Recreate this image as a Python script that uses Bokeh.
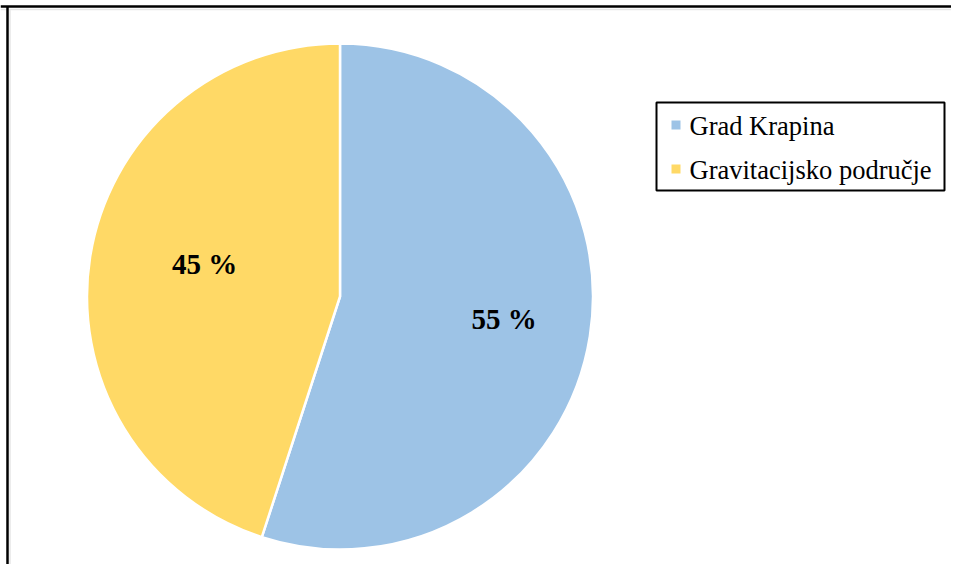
import math
from bokeh.plotting import figure
from bokeh.models import Range1d, ColumnDataSource
from bokeh.core.properties import value
from bokeh.embed import file_html
from bokeh.resources import INLINE

# ---- data ----
categories = ["Grad Krapina", "Gravitacijsko područje"]
shares = [55, 45]
label_texts = ["55 %", "45 %"]
colors = ["#9DC3E6", "#FFD966"]

# ---- layout (screen pixel coordinates; y measured upward from the figure bottom) ----
W, H = 951, 564
cx, cy_page, R = 339.5, 296, 253
cy = H - cy_page
label_rfrac = [0.655, 0.55]
label_angle_adj = [1.2, -4.5]   # degrees

p = figure(width=W, height=H, output_backend="svg", toolbar_location=None,
           x_range=Range1d(0, W), y_range=Range1d(0, H),
           min_border=0, outline_line_color=None)
p.axis.visible = False
p.grid.visible = False
p.background_fill_color = "white"
p.border_fill_color = "white"

# ---- frame lines (top & left) ----
p.line(x=[0, W], y=[H - 9, H - 9], line_color="#e6e6e6", line_width=1.5)
p.line(x=[9.5, 9.5], y=[0, H - 9], line_color="#e6e6e6", line_width=1.5)
p.line(x=[0, W], y=[H - 6, H - 6], line_color="black", line_width=2.5)
p.line(x=[7, 7], y=[0, H - 6], line_color="black", line_width=2.5)

total = float(sum(shares))
starts, ends, mids = [], [], []
a = math.pi / 2
for v in shares:
    sweep = 2 * math.pi * v / total
    starts.append(a)
    ends.append(a - sweep)
    mids.append(a - sweep / 2)
    a -= sweep

src = ColumnDataSource(dict(cat=categories, start=starts, end=ends, color=colors))
p.wedge(x=cx, y=cy, radius=R, start_angle="start", end_angle="end",
        direction="clock", fill_color="color", line_color="white",
        line_width=2.5, source=src)

lx = [cx + R * f * math.cos(m + math.radians(d)) for m, f, d in zip(mids, label_rfrac, label_angle_adj)]
ly = [cy + R * f * math.sin(m + math.radians(d)) for m, f, d in zip(mids, label_rfrac, label_angle_adj)]
p.text(x=lx, y=ly, text=label_texts, text_font=value("Liberation Serif"),
       text_font_style="bold", text_font_size="29px", text_align="center",
       text_baseline="middle", text_color="black")

# ---- legend (drawn manually) ----
leg_left, leg_right, leg_top, leg_bottom = 656, 944, 102, 190
p.quad(left=[leg_left], right=[leg_right], top=[H - leg_top], bottom=[H - leg_bottom],
       fill_color="white", line_color="black", line_width=2)
row_pitch = 44
sq_y = [H - (124.5 + i * row_pitch) for i in range(len(categories))]
txt_y = [H - (125.5 + i * row_pitch) for i in range(len(categories))]
p.scatter(x=[675.5] * len(categories), y=sq_y, marker="square", size=9,
          fill_color=colors, line_color=None)
p.text(x=[689] * len(categories), y=txt_y, text=categories,
       text_font=value("Liberation Serif"), text_font_size="26.5px",
       text_align="left", text_baseline="alphabetic", text_color="black")

open("out.html", "w").write(file_html(p, INLINE))
